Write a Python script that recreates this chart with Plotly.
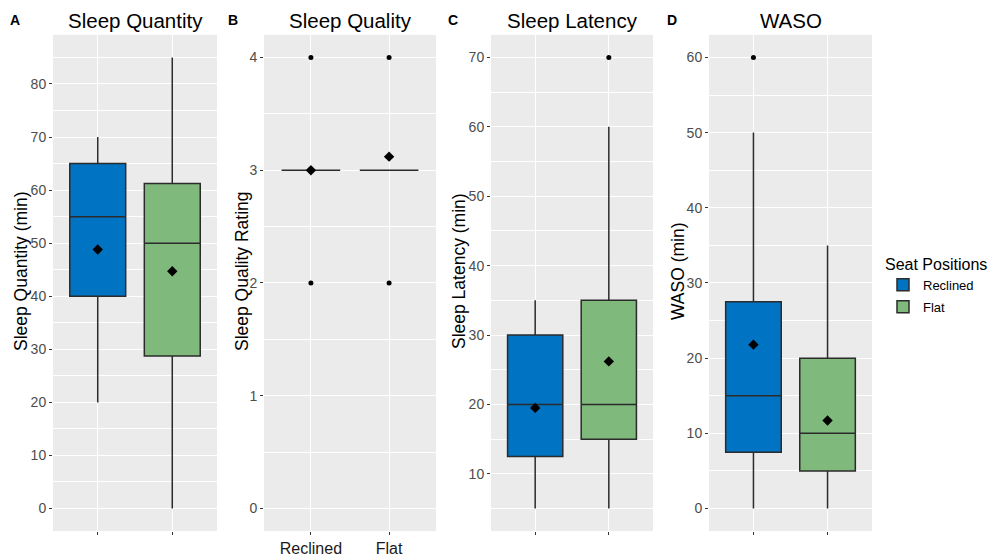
import plotly.graph_objects as go

# ---------------- data ----------------
groups = ["Reclined", "Flat"]
group_colors = ["#0073C2", "#80B97C"]
panel_titles = ["Sleep Quantity", "Sleep Quality", "Sleep Latency", "WASO"]
panel_letters = ["A", "B", "C", "D"]
y_titles = ["Sleep Quantity (min)", "Sleep Quality Rating", "Sleep Latency (min)", "WASO (min)"]
x_ticktext = [["", ""], ["Reclined", "Flat"], ["", ""], ["", ""]]

qty_lower = [20, 0]
qty_q1 = [40, 28.75]
qty_median = [55, 50]
qty_q3 = [65, 61.25]
qty_upper = [70, 85]
qty_mean = [48.8, 44.7]
qty_outliers = [[], []]

qual_lower = [3, 3]
qual_q1 = [3, 3]
qual_median = [3, 3]
qual_q3 = [3, 3]
qual_upper = [3, 3]
qual_mean = [3.0, 3.12]
qual_outliers = [[2, 4], [2, 4]]

lat_lower = [5, 5]
lat_q1 = [12.5, 15]
lat_median = [20, 20]
lat_q3 = [30, 35]
lat_upper = [35, 60]
lat_mean = [19.5, 26.2]
lat_outliers = [[], [70]]

waso_lower = [0, 0]
waso_q1 = [7.5, 5]
waso_median = [15, 10]
waso_q3 = [27.5, 20]
waso_upper = [50, 35]
waso_mean = [21.8, 11.7]
waso_outliers = [[60], []]

y_ranges = [[-4.25, 89.25], [-0.2, 4.2], [1.75, 73.25], [-3, 63]]
y_dticks = [10, 1, 10, 10]

# ---------------- layout geometry ----------------
W, H = 993, 557
x_px = [(53, 217), (264, 436), (491, 653), (709, 872)]
y_px = (35, 533)
ytitle_x = [21, 242, 459, 678]
letter_x = [15, 233, 453, 672]

panels = [
    (qty_lower, qty_q1, qty_median, qty_q3, qty_upper, qty_mean, qty_outliers),
    (qual_lower, qual_q1, qual_median, qual_q3, qual_upper, qual_mean, qual_outliers),
    (lat_lower, lat_q1, lat_median, lat_q3, lat_upper, lat_mean, lat_outliers),
    (waso_lower, waso_q1, waso_median, waso_q3, waso_upper, waso_mean, waso_outliers),
]

FONT = "Liberation Sans, Arial, sans-serif"
fig = go.Figure()
annotations = []

for p, (lo, q1, med, q3, up, mean, outl) in enumerate(panels):
    sfx = "" if p == 0 else str(p + 1)
    xref, yref = "x" + sfx, "y" + sfx
    for g in range(2):
        fig.add_trace(go.Box(
            x=[g + 1], q1=[q1[g]], median=[med[g]], q3=[q3[g]],
            lowerfence=[lo[g]], upperfence=[up[g]],
            width=0.75, whiskerwidth=0,
            fillcolor=group_colors[g],
            line=dict(color="#2B2B2B", width=1.5),
            boxpoints=False,
            name=groups[g], legendgroup=groups[g], showlegend=(p == 0),
            xaxis=xref, yaxis=yref, hoverinfo="skip",
        ))
        if outl[g]:
            fig.add_trace(go.Scatter(
                x=[g + 1] * len(outl[g]), y=outl[g], mode="markers",
                marker=dict(color="black", size=5),
                showlegend=False, xaxis=xref, yaxis=yref, hoverinfo="skip",
            ))
        fig.add_trace(go.Scatter(
            x=[g + 1], y=[mean[g]], mode="markers",
            marker=dict(color="black", size=8, symbol="diamond"),
            showlegend=False, xaxis=xref, yaxis=yref, hoverinfo="skip",
        ))

    x0, x1 = x_px[p]
    dom_x = [x0 / W, x1 / W]
    dom_y = [1 - y_px[1] / H, 1 - y_px[0] / H]
    fig.layout["xaxis" + sfx] = dict(
        domain=dom_x, anchor=yref, range=[0.4, 2.6],
        tickmode="array", tickvals=[1, 2], ticktext=x_ticktext[p],
        ticks="outside", ticklen=3, tickcolor="#333333", tickwidth=1,
        tickfont=dict(size=16, color="#1A1A1A", family=FONT),
        showgrid=True, gridcolor="white", gridwidth=1.1,
        zeroline=False, showline=False, fixedrange=True,
    )
    fig.layout["yaxis" + sfx] = dict(
        domain=dom_y, anchor=xref, range=y_ranges[p],
        tickmode="linear", tick0=0, dtick=y_dticks[p],
        ticks="outside", ticklen=3, tickcolor="#333333", tickwidth=1,
        tickfont=dict(size=14, color="#4D4D4D", family=FONT),
        showgrid=True, gridcolor="white", gridwidth=1.1,
        minor=dict(dtick=y_dticks[p] / 2, tick0=0, showgrid=True,
                   gridcolor="white", gridwidth=0.5, ticks=""),
        zeroline=False, showline=False, fixedrange=True,
    )
    # panel title
    annotations.append(dict(
        x=(x0 + x1) / 2 / W, y=1 - 21 / H, xref="paper", yref="paper",
        text=panel_titles[p], showarrow=False, xanchor="center", yanchor="middle",
        font=dict(size=20.5, color="black", family=FONT),
    ))
    # panel letter
    annotations.append(dict(
        x=letter_x[p] / W, y=1 - 20 / H, xref="paper", yref="paper",
        text="<b>" + panel_letters[p] + "</b>", showarrow=False,
        xanchor="center", yanchor="middle",
        font=dict(size=14, color="black", family=FONT),
    ))
    # y-axis title
    annotations.append(dict(
        x=ytitle_x[p] / W, y=1 - ((y_px[0] + y_px[1]) / 2 - 12) / H,
        xref="paper", yref="paper", text=y_titles[p], showarrow=False,
        textangle=-90, xanchor="center", yanchor="middle",
        font=dict(size=17.5, color="black", family=FONT),
    ))

fig.update_layout(
    width=W, height=H, margin=dict(l=0, r=0, t=0, b=0),
    paper_bgcolor="white", plot_bgcolor="#EBEBEB",
    boxmode="overlay",
    annotations=annotations,
    font=dict(family=FONT),
    legend=dict(
        title=dict(text="Seat Positions", font=dict(size=16, color="black", family=FONT)),
        font=dict(size=13, color="black", family=FONT),
        x=883 / W, y=1 - 250 / H, xanchor="left", yanchor="top",
        bgcolor="rgba(0,0,0,0)", tracegroupgap=2, itemwidth=30,
    ),
)

fig.write_html("out.html", config={"displayModeBar": False},
               post_script="document.body.style.margin='0px';")
